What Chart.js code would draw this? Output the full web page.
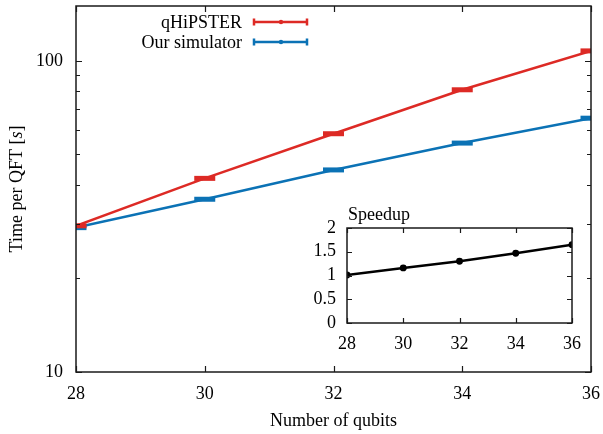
<!DOCTYPE html>
<html>
<head>
<meta charset="utf-8">
<script src="https://cdn.jsdelivr.net/npm/chart.js@4.4.1/dist/chart.umd.min.js"></script>
<style>
  html, body { margin: 0; padding: 0; background: #fff; overflow: hidden; }
  #wrap { position: relative; width: 603px; height: 434px; }
  #insetBox { position: absolute; left: 300px; top: 198px; width: 285px; height: 160px; }
</style>
</head>
<body>
<div id="wrap">
  <canvas id="mainChart" width="603" height="434"></canvas>
  <div id="insetBox"><canvas id="insetChart" width="285" height="160"></canvas></div>
</div>
<script>
// data
const qubits = [28, 30, 32, 34, 36];
const qhipsterTime = [29.5, 41.9, 58.3, 80.7, 107.6];
const ourTime = [29.1, 35.9, 44.6, 54.4, 65.4];
const speedup = [1.01, 1.16, 1.30, 1.47, 1.65];

const xTicks = [28, 30, 32, 34, 36];
const yMajorTicks = [10, 100];
const yMinorTicks = [20, 30, 40, 50, 60, 70, 80, 90];
const speedupTicks = [0, 0.5, 1, 1.5, 2];

const seriesNames = ['qHiPSTER', 'Our simulator'];
const RED = '#dd2a25';
const BLUE = '#0b72b5';
const AXIS = '#1a1a1a';
const FONT = '"Liberation Serif", "Times New Roman", serif';

function toPoints(ys) {
    return qubits.map((q, i) => ({ x: q, y: ys[i] }));
}

// fixed axis sizes, no extra room for edge labels
function fixX(h) {
    return s => { s.height = h; s.paddingLeft = 0; s.paddingRight = 0; };
}
function fixY(w) {
    return s => { s.width = w; s.paddingTop = 0; s.paddingBottom = 0; };
}

// box round the plot plus inward ticks on all four sides
function framePlugin(id, xMaj, yMaj, yMin, majLen, minLen) {
    return {
        id: id,
        afterDatasetsDraw(chart) {
            const ctx = chart.ctx;
            const a = chart.chartArea;
            const xs = chart.scales.x, ys = chart.scales.y;
            ctx.save();
            ctx.strokeStyle = AXIS;
            ctx.lineWidth = 1.5;
            ctx.strokeRect(a.left, a.top, a.right - a.left, a.bottom - a.top);
            ctx.lineWidth = 1.2;
            ctx.beginPath();
            xMaj.forEach(v => {
                const px = Math.round(xs.getPixelForValue(v)) + 0.5;
                ctx.moveTo(px, a.bottom); ctx.lineTo(px, a.bottom - majLen);
                ctx.moveTo(px, a.top); ctx.lineTo(px, a.top + majLen);
            });
            yMaj.forEach(v => {
                const py = Math.round(ys.getPixelForValue(v)) + 0.5;
                ctx.moveTo(a.left, py); ctx.lineTo(a.left + majLen, py);
                ctx.moveTo(a.right, py); ctx.lineTo(a.right - majLen, py);
            });
            yMin.forEach(v => {
                const py = Math.round(ys.getPixelForValue(v)) + 0.5;
                ctx.moveTo(a.left, py); ctx.lineTo(a.left + minLen, py);
                ctx.moveTo(a.right, py); ctx.lineTo(a.right - minLen, py);
            });
            ctx.stroke();
            ctx.restore();
        }
    };
}

// gnuplot style key and the axis titles
const labelsPlugin = {
    id: 'labels',
    afterDraw(chart) {
        const ctx = chart.ctx;
        const a = chart.chartArea;
        ctx.save();
        ctx.font = '18px ' + FONT;
        ctx.fillStyle = '#000';
        ctx.textBaseline = 'middle';

        // key
        const keyRows = [22, 42];
        const colors = [RED, BLUE];
        seriesNames.forEach((name, i) => {
            const y = keyRows[i];
            ctx.textAlign = 'right';
            ctx.fillText(name, 242, y + 1);
            ctx.strokeStyle = colors[i];
            ctx.fillStyle = colors[i];
            ctx.lineWidth = 2.5;
            ctx.beginPath();
            ctx.moveTo(254, y); ctx.lineTo(307, y);
            ctx.moveTo(254, y - 3.5); ctx.lineTo(254, y + 3.5);
            ctx.moveTo(307, y - 3.5); ctx.lineTo(307, y + 3.5);
            ctx.stroke();
            ctx.beginPath();
            ctx.arc(281, y, 2.2, 0, Math.PI * 2);
            ctx.fill();
            ctx.fillStyle = '#000';
        });

        // x title
        ctx.textAlign = 'center';
        ctx.fillText('Number of qubits', (a.left + a.right) / 2, 421);

        // y title with italic s
        const p1 = 'Time per QFT [', p2 = 's', p3 = ']';
        ctx.font = '18px ' + FONT;
        const w1 = ctx.measureText(p1).width, w3 = ctx.measureText(p3).width;
        ctx.font = 'italic 18px ' + FONT;
        const w2 = ctx.measureText(p2).width;
        const total = w1 + w2 + w3;
        ctx.translate(17, (a.top + a.bottom) / 2);
        ctx.rotate(-Math.PI / 2);
        ctx.textAlign = 'left';
        let x0 = -total / 2;
        ctx.font = '18px ' + FONT;
        ctx.fillText(p1, x0, 0);
        ctx.font = 'italic 18px ' + FONT;
        ctx.fillText(p2, x0 + w1, 0);
        ctx.font = '18px ' + FONT;
        ctx.fillText(p3, x0 + w1 + w2, 0);
        ctx.restore();
    }
};

const mainChart = new Chart(document.getElementById('mainChart'), {
    type: 'line',
    data: {
        datasets: [
            {
                label: seriesNames[0],
                data: toPoints(qhipsterTime),
                borderColor: RED,
                borderWidth: 2.5,
                pointStyle: 'line',
                pointRadius: 10.5,
                pointBorderWidth: 5,
                pointBorderColor: RED,
                tension: 0
            },
            {
                label: seriesNames[1],
                data: toPoints(ourTime),
                borderColor: BLUE,
                borderWidth: 2.5,
                pointStyle: 'line',
                pointRadius: 10.5,
                pointBorderWidth: 5,
                pointBorderColor: BLUE,
                tension: 0
            }
        ]
    },
    options: {
        responsive: false,
        animation: false,
        layout: { autoPadding: false, padding: { top: 6, right: 12, left: 0, bottom: 0 } },
        plugins: { legend: { display: false }, tooltip: { enabled: false } },
        scales: {
            x: {
                type: 'linear',
                min: 28,
                max: 36,
                afterBuildTicks: s => { s.ticks = xTicks.map(v => ({ value: v })); },
                afterFit: fixX(62),
                grid: { display: false, drawTicks: false },
                border: { display: false },
                ticks: { padding: 11, autoSkip: false, color: '#000', maxRotation: 0, font: { family: FONT, size: 18 } }
            },
            y: {
                type: 'logarithmic',
                min: 10,
                max: 150,
                afterBuildTicks: s => { s.ticks = yMajorTicks.map(v => ({ value: v })); },
                afterFit: fixY(76),
                grid: { display: false, drawTicks: false },
                border: { display: false },
                ticks: { padding: 13, autoSkip: false, color: '#000', font: { family: FONT, size: 18 }, callback: v => String(v) }
            }
        }
    },
    plugins: [framePlugin('mainFrame', xTicks, yMajorTicks, yMinorTicks, 6, 4), labelsPlugin]
});

// inset: speedup
const insetChart = new Chart(document.getElementById('insetChart'), {
    type: 'line',
    data: {
        datasets: [{
            label: 'Speedup',
            data: toPoints(speedup),
            borderColor: '#000',
            borderWidth: 2.5,
            pointRadius: 2.2,
            pointBackgroundColor: '#000',
            pointBorderColor: '#000',
            tension: 0
        }]
    },
    options: {
        responsive: false,
        animation: false,
        layout: { autoPadding: false, padding: { top: 30, right: 13, left: 0, bottom: 0 } },
        plugins: { legend: { display: false }, tooltip: { enabled: false } },
        scales: {
            x: {
                type: 'linear',
                min: 28,
                max: 36,
                afterBuildTicks: s => { s.ticks = xTicks.map(v => ({ value: v })); },
                afterFit: fixX(35),
                grid: { display: false, drawTicks: false },
                border: { display: false },
                ticks: { padding: 10, autoSkip: false, color: '#000', maxRotation: 0, font: { family: FONT, size: 18 } }
            },
            y: {
                type: 'linear',
                min: 0,
                max: 2,
                afterBuildTicks: s => { s.ticks = speedupTicks.map(v => ({ value: v })); },
                afterFit: fixY(47),
                grid: { display: false, drawTicks: false },
                border: { display: false },
                ticks: { padding: 11, autoSkip: false, color: '#000', font: { family: FONT, size: 18 }, callback: v => String(v) }
            }
        }
    },
    plugins: [
        framePlugin('insetFrame', xTicks, speedupTicks, [], 5, 0),
        {
            id: 'insetTitle',
            afterDraw(chart) {
                const ctx = chart.ctx;
                ctx.save();
                ctx.font = '18px ' + FONT;
                ctx.fillStyle = '#000';
                ctx.textAlign = 'left';
                ctx.textBaseline = 'middle';
                ctx.fillText('Speedup', chart.chartArea.left + 1, 17);
                ctx.restore();
            }
        }
    ]
});
</script>
</body>
</html>
